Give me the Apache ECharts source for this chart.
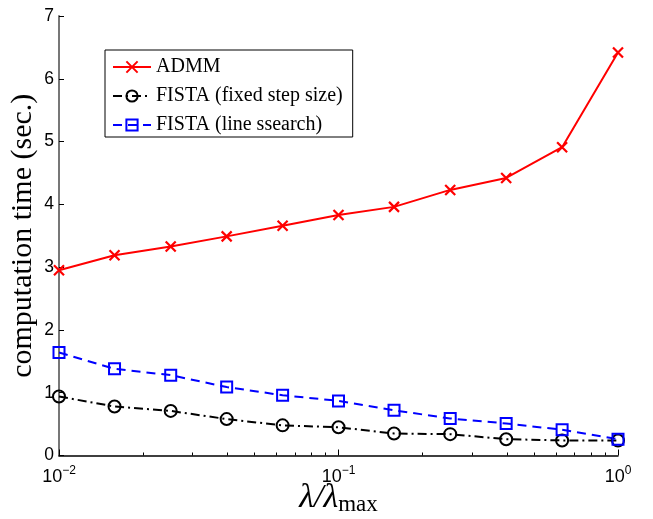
<!DOCTYPE html>
<html>
<head>
<meta charset="utf-8">
<script src="https://cdn.jsdelivr.net/npm/echarts@6/dist/echarts.min.js"></script>
<style>
  html, body { margin: 0; padding: 0; background: #fff; }
  #chart { width: 653px; height: 519px; }
</style>
</head>
<body>
<div id="chart"></div>
<script>
// Regularisation ratio lambda / lambda_max (log-spaced sweep)
const lambdaRatio = [0.01, 0.0158, 0.0251, 0.0398, 0.0631, 0.1, 0.158, 0.251, 0.398, 0.631, 1];

// Computation time in seconds for each solver
const admmTime       = [2.95, 3.19, 3.33, 3.49, 3.66, 3.83, 3.96, 4.23, 4.42, 4.91, 6.42];
const fistaFixedTime = [0.94, 0.78, 0.71, 0.58, 0.48, 0.45, 0.35, 0.34, 0.26, 0.24, 0.24];
const fistaLineTime  = [1.64, 1.38, 1.28, 1.09, 0.96, 0.87, 0.72, 0.59, 0.51, 0.41, 0.26];

const seriesNames = ['ADMM', 'FISTA (fixed step size)', 'FISTA (line ssearch)'];

// Axis ticks
const xMajorTicks = [0.01, 0.1, 1];
const xMinorTicks = [0.02, 0.03, 0.04, 0.05, 0.06, 0.07, 0.08, 0.09,
                     0.2, 0.3, 0.4, 0.5, 0.6, 0.7, 0.8, 0.9];
const yMin = 0, yMax = 7, yStep = 1;

const pair = (xs, ys) => xs.map((x, i) => [x, ys[i]]);

const crossPath = 'path://M0,0L10,10M10,0L0,10';
const serifFont = '"Liberation Serif", "Times New Roman", serif';
const sansFont = '"Liberation Sans", Arial, Helvetica, sans-serif';

function powerLabel(value) {
  const e = Math.round(Math.log10(value));
  const exp = e < 0 ? '\u2212' + Math.abs(e) : String(e);
  return '{b|10}{s|' + exp + '}';
}

const chart = echarts.init(document.getElementById('chart'), null, { renderer: 'canvas' });

chart.setOption({
  backgroundColor: '#fff',
  animation: false,
  grid: {
    left: 59, right: 35, top: 16, bottom: 63.5,
    containLabel: false,
    outerBoundsMode: 'none'
  },
  legend: {
    orient: 'vertical',
    left: 105, top: 50,
    padding: [7, 10, 2, 7],
    itemWidth: 38, itemHeight: 14, itemGap: 9,
    backgroundColor: '#fff',
    borderColor: '#000', borderWidth: 1, borderRadius: 0,
    textStyle: { fontFamily: serifFont, fontSize: 20, lineHeight: 20, color: '#000' },
    data: seriesNames
  },
  xAxis: [
    {
      type: 'log', logBase: 10, min: 0.01, max: 1,
      position: 'bottom',
      name: '{i|\u03BB/\u03BB}{m|max}',
      nameLocation: 'middle', nameGap: 24.5,
      nameMoveOverlap: false,
      nameTextStyle: {
        rich: {
          i: { fontFamily: serifFont, fontStyle: 'italic', fontSize: 34, lineHeight: 36, color: '#000' },
          m: { fontFamily: serifFont, fontSize: 23, lineHeight: 26, verticalAlign: 'bottom', color: '#000' }
        }
      },
      axisLine: { show: true, lineStyle: { color: '#000', width: 1.5 } },
      axisTick: { show: true, inside: true, length: 6, customValues: xMajorTicks, lineStyle: { color: '#000', width: 1 } },
      axisLabel: {
        show: true, margin: 9, customValues: xMajorTicks,
        formatter: powerLabel,
        rich: {
          b: { fontFamily: sansFont, fontSize: 18, lineHeight: 22, verticalAlign: 'bottom', color: '#000' },
          s: { fontFamily: sansFont, fontSize: 12, lineHeight: 10, verticalAlign: 'top', color: '#000' }
        }
      },
      splitLine: { show: false },
      minorTick: { show: false }
    },
    {
      type: 'log', logBase: 10, min: 0.01, max: 1,
      position: 'bottom',
      axisLine: { show: false },
      axisTick: { show: true, inside: true, length: 3, customValues: xMinorTicks, lineStyle: { color: '#000', width: 1 } },
      axisLabel: { show: false },
      splitLine: { show: false }
    }
  ],
  yAxis: {
    type: 'value', min: yMin, max: yMax, interval: yStep,
    name: 'computation time (sec.)',
    nameLocation: 'middle', nameRotate: 90, nameGap: 21,
    nameMoveOverlap: false,
    nameTextStyle: { fontFamily: serifFont, fontSize: 30, color: '#000' },
    axisLine: { show: true, lineStyle: { color: '#777', width: 2 } },
    axisTick: { show: true, inside: true, length: 5, lineStyle: { color: '#000', width: 1 } },
    axisLabel: { margin: 5, fontFamily: sansFont, fontSize: 17.5, color: '#000' },
    splitLine: { show: false }
  },
  series: [
    {
      name: seriesNames[0], type: 'line',
      data: pair(lambdaRatio, admmTime),
      symbol: crossPath, symbolSize: 10,
      lineStyle: { color: '#ff0000', width: 2, type: 'solid' },
      itemStyle: { color: 'rgba(0,0,0,0)', borderColor: '#ff0000', borderWidth: 2.2 },
      z: 3
    },
    {
      name: seriesNames[1], type: 'line',
      data: pair(lambdaRatio, fistaFixedTime),
      symbol: 'circle', symbolSize: 12,
      lineStyle: { color: '#000', width: 2, type: [9, 4, 2, 4] },
      itemStyle: { color: 'rgba(0,0,0,0)', borderColor: '#000', borderWidth: 2 },
      z: 2
    },
    {
      name: seriesNames[2], type: 'line',
      data: pair(lambdaRatio, fistaLineTime),
      symbol: 'rect', symbolSize: 11,
      lineStyle: { color: '#0000ff', width: 2, type: [9, 6] },
      itemStyle: { color: 'rgba(0,0,0,0)', borderColor: '#0000ff', borderWidth: 2 },
      z: 2
    }
  ]
});
</script>
</body>
</html>
